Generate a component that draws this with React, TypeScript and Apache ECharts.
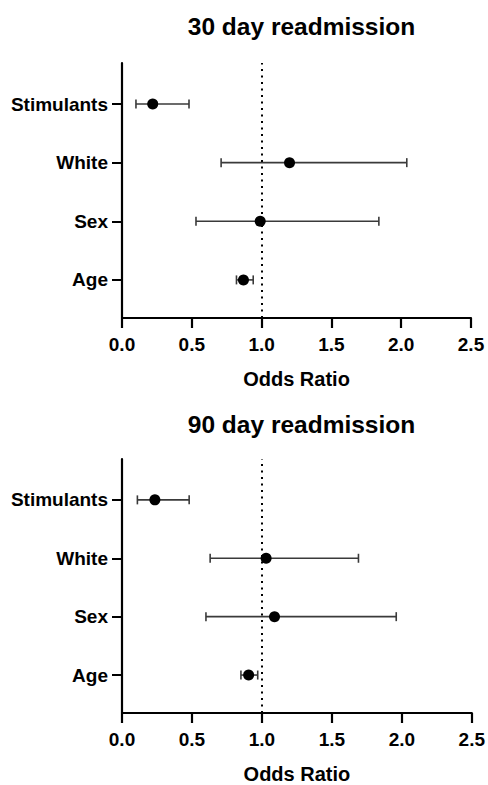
import React, { useEffect, useRef } from "react";
import * as echarts from "echarts";

const categories = ["Age", "Sex", "White", "Stimulants"];
const yPos = [1, 2, 3, 4];

const or30 = [0.87, 0.99, 1.2, 0.22];
const lo30 = [0.82, 0.53, 0.71, 0.1];
const hi30 = [0.94, 1.84, 2.04, 0.48];

const or90 = [0.905, 1.09, 1.03, 0.235];
const lo90 = [0.85, 0.6, 0.63, 0.11];
const hi90 = [0.97, 1.96, 1.69, 0.48];

const titles = ["30 day readmission", "90 day readmission"];
const xName = "Odds Ratio";
const FONT = "'Liberation Sans', Arial, Helvetica, sans-serif";

export default function App() {
  const ref = useRef<HTMLDivElement>(null);
  useEffect(() => {
    if (!ref.current) return;
    const chart = echarts.init(ref.current, null, { renderer: "svg" });
    const grids = [
      { left: 122, right: 17, top: 63, height: 255 },
      { left: 122, right: 16, top: 459, height: 254 },
    ];
    const sets = [
      { or: or30, lo: lo30, hi: hi30 },
      { or: or90, lo: lo90, hi: hi90 },
    ];
    const axisLine = { show: true, lineStyle: { color: "#000", width: 2.2 } };
    const xAxes = grids.map((_, i) => ({
      type: "value",
      gridIndex: i,
      min: 0,
      max: 2.5,
      interval: 0.5,
      axisLine,
      axisTick: { show: true, length: 10, lineStyle: { color: "#000", width: 2.2 } },
      splitLine: { show: false },
      axisLabel: {
        margin: 17,
        color: "#000",
        fontSize: 19,
        fontWeight: "bold",
        fontFamily: FONT,
        formatter: (v: number) => v.toFixed(1),
      },
      name: xName,
      nameLocation: "middle",
      nameGap: 51,
      nameTextStyle: { color: "#000", fontSize: 20, fontWeight: "bold", fontFamily: FONT },
    }));
    const yAxes = grids.map((_, i) => ({
      type: "value",
      gridIndex: i,
      min: 0.35,
      max: 4.7,
      axisLine,
      splitLine: { show: false },
      axisTick: {
        show: true,
        length: 10,
        customValues: yPos,
        lineStyle: { color: "#000", width: 2 },
      },
      axisLabel: {
        customValues: yPos,
        margin: 14,
        color: "#000",
        fontSize: 19,
        fontWeight: "bold",
        fontFamily: FONT,
        formatter: (v: number) => categories[Math.round(v) - 1] ?? "",
      },
    }));
    const series: any[] = [];
    sets.forEach((s, i) => {
      series.push({
        type: "custom",
        xAxisIndex: i,
        yAxisIndex: i,
        z: 2,
        data: yPos.map((y, k) => [s.lo[k], s.hi[k], y]),
        encode: { x: [0, 1], y: 2 },
        renderItem: (params: any, api: any) => {
          const lo = api.coord([api.value(0), api.value(2)]);
          const hi = api.coord([api.value(1), api.value(2)]);
          const cap = 4.5;
          const style = { stroke: "#3a3a3a", lineWidth: 1.6 };
          return {
            type: "group",
            children: [
              { type: "line", shape: { x1: lo[0], y1: lo[1], x2: hi[0], y2: hi[1] }, style },
              { type: "line", shape: { x1: lo[0], y1: lo[1] - cap, x2: lo[0], y2: lo[1] + cap }, style },
              { type: "line", shape: { x1: hi[0], y1: hi[1] - cap, x2: hi[0], y2: hi[1] + cap }, style },
            ],
          };
        },
      });
      series.push({
        type: "scatter",
        xAxisIndex: i,
        yAxisIndex: i,
        z: 3,
        symbol: "circle",
        symbolSize: 11,
        itemStyle: { color: "#000", opacity: 1 },
        data: yPos.map((y, k) => [s.or[k], y]),
        markLine: {
          silent: true,
          symbol: "none",
          label: { show: false },
          lineStyle: { color: "#000", width: 2, type: [2, 4.5], opacity: 1 },
          data: [{ xAxis: 1 }],
        },
      });
    });
    chart.setOption({
      animation: false,
      backgroundColor: "#fff",
      title: [
        {
          text: titles[0],
          left: 296.5,
          top: 9,
          textAlign: "center",
          textStyle: { color: "#000", fontSize: 24.5, fontWeight: "bold", fontFamily: FONT },
        },
        {
          text: titles[1],
          left: 296.5,
          top: 407,
          textAlign: "center",
          textStyle: { color: "#000", fontSize: 24.5, fontWeight: "bold", fontFamily: FONT },
        },
      ],
      grid: grids,
      xAxis: xAxes,
      yAxis: yAxes,
      series,
    });
    return () => chart.dispose();
  }, []);
  return (
    <div
      ref={ref}
      style={{ position: "fixed", left: 0, top: 0, width: 488, height: 785, background: "#fff" }}
    />
  );
}
